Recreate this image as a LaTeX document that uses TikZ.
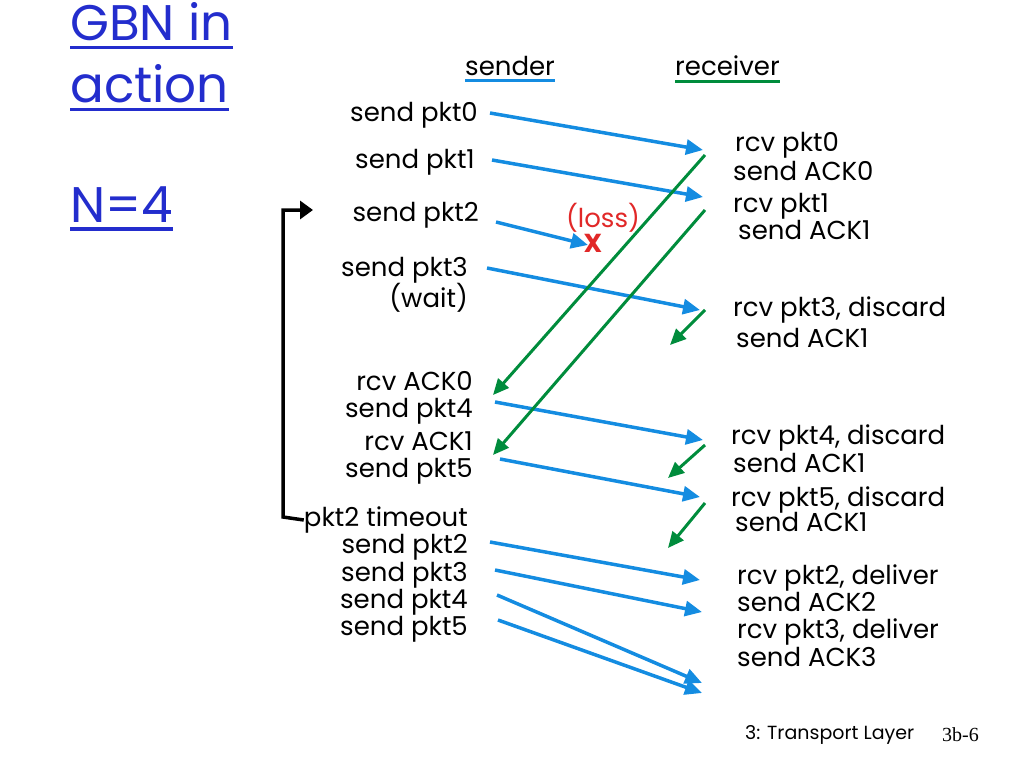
\documentclass[tikz,border=0pt]{standalone}
\usepackage{fontspec}
\setmainfont{Poppins}
\newfontfamily\pagefont{Liberation Serif}
\usepackage{tikz}
\usetikzlibrary{arrows.meta, positioning}
\definecolor{gbnblue}{RGB}{35,45,205}
\definecolor{pktblue}{RGB}{20,140,225}
\definecolor{ackgreen}{RGB}{0,140,60}
\definecolor{lossred}{RGB}{225,40,40}
\tikzset{
  lbl/.style={font=\fontsize{26}{28}\selectfont, inner sep=0pt},
  sndlbl/.style={lbl, anchor=east},
  rcvlbl/.style={lbl, anchor=west},
  titlelbl/.style={font=\fontsize{50}{52}\selectfont, text=gbnblue, inner sep=0pt, anchor=west},
  pkt/.style={draw=pktblue, line width=3.5pt, -{Triangle[length=17pt,width=15pt]}},
  ack/.style={draw=ackgreen, line width=3pt, -{Triangle[length=16pt,width=14pt]}},
  timer/.style={draw=black, line width=3.5pt, -{Triangle[length=13pt,width=18pt]}},
}
\begin{document}
\begin{tikzpicture}[x=1pt, y=-1pt]
    \useasboundingbox (0,0) rectangle (1024,768);
    % title
    \node[titlelbl] (gbn) at (70,22) {GBN in};
    \node[titlelbl] (act) at (70,84) {action};
    \node[titlelbl] (win) at (70,205) {N=4};
    \foreach \n in {gbn, act, win} {
      \draw[gbnblue, line width=3.5pt] ([yshift=-6pt]\n.south west) -- ([yshift=-6pt]\n.south east);
    }
    % headers
    \node[lbl, anchor=west] (snd) at (465,66) {sender};
    \node[lbl, anchor=west] (rcv) at (675,66) {receiver};
    \draw[pktblue, line width=3pt] ([yshift=-5pt]snd.south west) -- ([yshift=-5pt]snd.south east);
    \draw[ackgreen, line width=3pt] ([yshift=-5pt]rcv.south west) -- ([yshift=-5pt]rcv.south east);
    % sender side
    \foreach \x/\y/\t/\n in {478/115/send pkt0/s0, 475/162/send pkt1/s1, 479/215/send pkt2/s2,
        468/270/send pkt3/s3, 468/298/(wait)/w3, 473/381/rcv ACK0/a0, 473/411/send pkt4/s4,
        473/441/rcv ACK1/a1, 473/471/send pkt5/s5, 468/520/pkt2 timeout/tmo, 468/547/send pkt2/r2,
        468/575/send pkt3/r3, 468/602/send pkt4/r4, 468/629/send pkt5/r5} {
      \node[sndlbl] (\n) at (\x,\y) {\t};
    }
    % receiver side
    \foreach \x/\y/\t/\n in {735/145/rcv pkt0/k0, 733/171/send ACK0/c0, 733/206/rcv pkt1/k1,
        738/230/send ACK1/c1, 733/310/{rcv pkt3, discard}/k3, 736/338/send ACK1/c3,
        731/438/{rcv pkt4, discard}/k4, 733/463/send ACK1/c4, 731/500/{rcv pkt5, discard}/k5,
        735/522/send ACK1/c5, 737/578/{rcv pkt2, deliver}/d2, 737/602/send ACK2/e2,
        737/632/{rcv pkt3, deliver}/d3, 737/657/send ACK3/e3} {
      \node[rcvlbl] (\n) at (\x,\y) {\t};
    }
    % packets
    \foreach \a/\b/\c/\d [count=\i] in {490/113/703/150, 492/160/703/197, 496/222/588/245,
        487/268/700/310, 495/402/703/440, 500/459/700/497, 490/542/700/580,
        495/570/702/612, 497/595/702/683, 498/620/702/693} {
      \coordinate (pa\i) at (\a,\b);
      \coordinate (pb\i) at (\c,\d);
      \draw[pkt] (pa\i) -- (pb\i);
    }
    % acks
    \foreach \a/\b/\c/\d [count=\i] in {705/155/493/395, 705/210/493/455, 705/310/670/345,
        705/445/668/478, 705/503/668/548} {
      \coordinate (aa\i) at (\a,\b);
      \coordinate (ab\i) at (\c,\d);
      \draw[ack] (aa\i) -- (ab\i);
    }
    % loss
    \node[lbl, text=lossred] (loss) at (603,218) {(loss)};
    \node[lbl, text=lossred, font=\fontsize{26}{26}\bfseries] (x) at (593,243) {X};
    % timeout
    \coordinate (tcorner) at (283,517);
    \coordinate (restart) at (313,210);
    \draw[timer] (tmo.west) -- (tcorner) |- (restart);
    % footer
    \node[inner sep=0pt, anchor=west, font=\fontsize{19}{21}\selectfont] (foot) at (745,735) {3: Transport Layer};
    \node[inner sep=0pt, anchor=west, font=\pagefont\fontsize{20}{22}\selectfont] (page) at (942,735) {3b-6};
\end{tikzpicture}
\end{document}
